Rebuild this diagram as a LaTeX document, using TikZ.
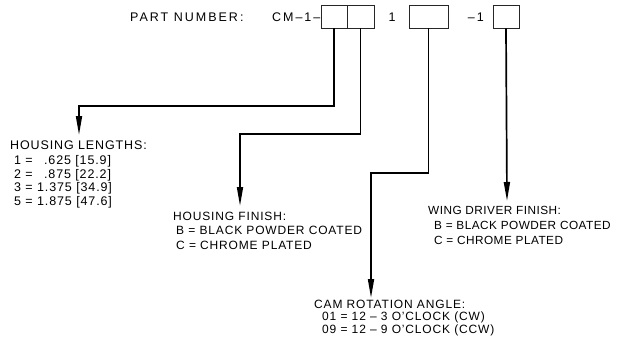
\documentclass[tikz,border=0pt]{standalone}
\usepackage{fontspec}
\setmainfont{Liberation Sans}[LetterSpace=7]
\usetikzlibrary{arrows.meta}

\begin{document}
\begin{tikzpicture}[x=1pt,y=-1pt,>={Triangle[length=19pt,width=6pt]},
  font=\fontsize{12}{13.5}\selectfont,
  lead/.style={->,line width=1.7pt},
  fieldbox/.style={draw=black!85,line width=0.8pt,minimum height=23pt,inner sep=0pt},
  note/.style={align=left,anchor=base west,inner sep=0pt},
  top/.style={inner sep=0pt,font=\fontsize{12.5}{14}\selectfont\addfontfeature{LetterSpace=16}}]
\useasboundingbox (0,0) rectangle (617,351);
\node[fieldbox,minimum width=26pt] (len) at (334,16.5) {};
\node[fieldbox,minimum width=27pt] (hfin) at (360.5,16.5) {};
\node[fieldbox,minimum width=39pt] (cam) at (428.5,16.5) {};
\node[fieldbox,minimum width=26pt] (wfin) at (506,16.5) {};
\node[top,anchor=base west] (pn) at (130,21) {PART NUMBER:};
\node[top,anchor=base east] (cm) at (len.west |- 0,21) {CM\textendash1\textendash};
\node[top,anchor=base] (one) at (392,21) {1};
\node[top,anchor=base east] (dash) at (484,21) {\textendash1};
\node[note,font=\fontsize{12.5}{13.5}\selectfont] (hlen) at (10,205) {HOUSING LENGTHS:\\[1.5pt]
  \hspace*{4pt}1 = \phantom{1}.625 [15.9]\\
  \hspace*{4pt}2 = \phantom{1}.875 [22.2]\\
  \hspace*{4pt}3 = 1.375 [34.9]\\
  \hspace*{4pt}5 = 1.875 [47.6]};
\node[note,font=\fontsize{12}{14.3}\selectfont] (hfint) at (173,249) {HOUSING FINISH:\\
  \hspace*{3pt}B = BLACK POWDER COATED\\
  \hspace*{3pt}C = CHROME PLATED};
\node[note,font=\fontsize{11.8}{15}\selectfont\addfontfeature{LetterSpace=4}] (wfint) at (428,244) {WING DRIVER FINISH:\\
  \hspace*{6pt}B = BLACK POWDER COATED\\
  \hspace*{6pt}C = CHROME PLATED};
\node[note,font=\fontsize{12}{12.5}\selectfont] (camt) at (314,333) {CAM ROTATION ANGLE:\\
  \hspace*{8pt}01 = 12 \textendash\ 3 O'CLOCK (CW)\\
  \hspace*{8pt}09 = 12 \textendash\ 9 O'CLOCK (CCW)};
\coordinate (lenTip) at (79,135);
\coordinate (hfinTip) at (240,206);
\coordinate (camTip) at (371,298);
\coordinate (wfinTip) at (507,201);
\draw[lead] (len.south) -- (len.south |- 0,106) -| (lenTip);
\draw[lead] (hfin.south) -- (hfin.south |- 0,134) -| (hfinTip);
\draw[lead] (cam.south) -- (cam.south |- 0,173) -| (camTip);
\draw[lead] (wfin.south) -- (wfinTip);
\end{tikzpicture}
\end{document}
